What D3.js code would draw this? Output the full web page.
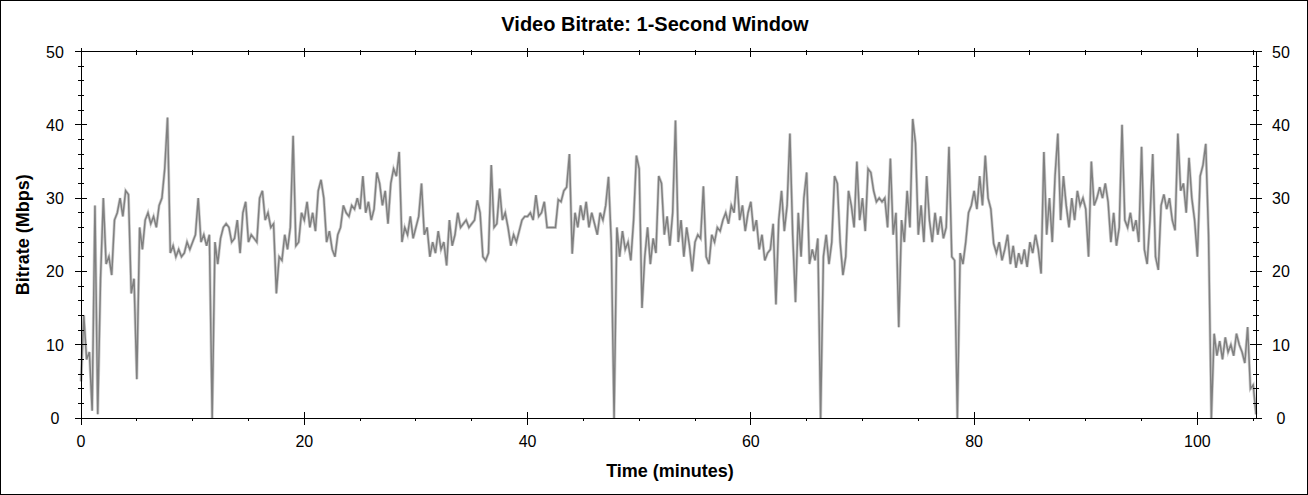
<!DOCTYPE html>
<html>
<head>
<meta charset="utf-8">
<script src="https://cdn.jsdelivr.net/npm/d3@7"></script>
<style>
  html, body { margin: 0; padding: 0; background: #fff; }
  svg { display: block; font-family: "Liberation Sans", Arial, sans-serif; }
</style>
</head>
<body>
<div id="chart"></div>
<script>
// bitrate samples (Mbps), one every quarter minute, one row per 5 minutes
const sampleStep = 0.25;
const bitrate = [
  5, 14, 8, 9, 1, 29, 0.5, 19, 30, 21, 22, 19.5, 27, 28, 30, 27.5, 31, 30.5, 17, 19,
  5.3, 26, 23, 27, 28, 26.5, 27.5, 26, 29, 30, 34, 41, 22.5, 23.5, 22, 23, 22, 22.5, 24, 23,
  24, 25, 30, 24, 25, 23.5, 25, 0, 24, 21, 24.5, 26, 26.5, 26, 24, 24.5, 27, 22.5, 28, 29.5,
  24, 25, 24.5, 24, 30, 31, 27, 28, 26, 26.5, 17, 22, 21.5, 25, 23, 26, 38.5, 23.5, 24, 28,
  27, 29.5, 26, 28, 25.5, 31, 32.5, 30, 24, 25.5, 23, 22, 25, 26, 29, 28, 27.5, 29, 28.5, 30,
  28.5, 33, 28, 29.5, 27, 28.5, 33.5, 32, 29, 31, 26.5, 32, 34, 33, 36.3, 24, 26, 25, 27.5, 24.5,
  26, 27.5, 32, 25, 26, 22, 24, 22.5, 25.5, 23, 24, 20.8, 27, 23.5, 25, 28, 26, 26.5, 27, 26,
  26.5, 27, 29.7, 28, 22, 21.5, 22.5, 34.5, 26, 26.5, 31.3, 27, 28, 26, 23.5, 25, 24, 25.5, 27, 27.5,
  27.5, 28, 27, 30.4, 27.5, 28, 29.5, 26, 26, 26, 26, 29.8, 29.5, 31, 31.5, 36, 22.4, 28, 26, 29,
  27, 29.5, 26, 28, 26.5, 25, 28, 27, 29, 32.9, 24, 0, 26, 22, 25.5, 23, 24, 21.5, 27, 35.8,
  34, 15, 22, 26, 21, 24.5, 22.5, 33, 32, 25, 27.5, 23.5, 28, 40.6, 24, 27, 22, 26, 23.5, 20,
  24, 25, 24.5, 31.6, 22, 21, 25, 24, 26, 25.5, 27, 28, 26.5, 29, 28, 33, 27, 29, 25.5, 28,
  29.5, 25.5, 27, 23, 25, 21.5, 22.5, 23, 26.5, 15.5, 27, 31, 25.5, 29, 38.8, 25, 15.8, 28, 22, 30,
  33.5, 21, 23, 21.5, 24.5, 0, 22, 25, 21, 24, 33, 32, 24, 19.5, 22, 31, 29, 26, 35, 27,
  30, 25.5, 34, 33.5, 31, 29.5, 30, 29.5, 30, 26, 35.4, 25, 28, 12.4, 27, 24, 31, 26, 40.8, 37.5,
  25, 29, 24, 33, 27, 24, 28, 25, 27.5, 24.5, 26, 37, 22, 21.5, 0, 22.5, 21, 24, 28, 29,
  31, 28.5, 33, 29, 35.8, 30, 28.5, 23.8, 22.5, 24, 21.5, 23, 25, 21, 23.5, 20.5, 22.5, 21, 23, 20.6,
  24, 22.5, 25, 23, 19.7, 36.3, 25, 30, 24, 33, 38.8, 27, 33, 29, 26, 30, 27, 31, 29, 30,
  28.5, 22, 35, 29, 30, 31.5, 30, 32, 29.5, 24, 28, 23.5, 26, 40, 27, 26, 28, 25.5, 27, 24,
  37, 23, 21, 27, 36, 22, 20.2, 29, 30.5, 28.5, 30, 27, 25.6, 38.8, 31, 32, 28, 35.5, 30, 27,
  22, 33, 34.5, 37.4, 25, 0, 11.5, 8.5, 10.5, 8, 11, 9, 10, 8.5, 11.5, 10, 9, 7.5, 12.4, 4,
  4.5, 0.5
];

const xMajorTicks = [0, 20, 40, 60, 80, 100];
const yMajorTicks = [0, 10, 20, 30, 40, 50];
const timeMax = 105.25;

const W = 1308, H = 495;
const plot = { left: 81, right: 1256, top: 51.5, bottom: 418 };

const svg = d3.select("#chart").append("svg")
  .attr("width", W)
  .attr("height", H);

svg.append("rect")
  .attr("x", 0.5).attr("y", 0.5)
  .attr("width", W - 1).attr("height", H - 1)
  .attr("fill", "#fff")
  .attr("stroke", "#000");

const x = d3.scaleLinear().domain([0, timeMax]).range([plot.left, plot.right]);
const y = d3.scaleLinear().domain([0, 50]).range([plot.bottom, plot.top]);

const xMinor = d3.range(0, timeMax, 5).filter(t => t % 20 !== 0);
const yMinor = d3.range(0, 50, 2).filter(v => v % 10 !== 0);

// line: light halo under a darker trace
const line = d3.line()
  .x((d, i) => x(i * sampleStep))
  .y(d => y(d));

svg.append("path")
  .datum(bitrate)
  .attr("fill", "none")
  .attr("stroke", "#cfcfcf")
  .attr("stroke-width", 3)
  .attr("d", line);

svg.append("path")
  .datum(bitrate)
  .attr("fill", "none")
  .attr("stroke", "#808080")
  .attr("stroke-width", 1.5)
  .attr("d", line);

// frame
const g = svg.append("g").attr("stroke", "#000").attr("stroke-width", 1).attr("shape-rendering", "crispEdges");
g.append("line").attr("x1", plot.left).attr("x2", plot.right).attr("y1", plot.bottom).attr("y2", plot.bottom);
g.append("line").attr("x1", plot.left).attr("x2", plot.right).attr("y1", plot.top).attr("y2", plot.top);
g.append("line").attr("x1", plot.left).attr("x2", plot.left).attr("y1", plot.top).attr("y2", plot.bottom);
g.append("line").attr("x1", plot.right).attr("x2", plot.right).attr("y1", plot.top).attr("y2", plot.bottom);

// x ticks
g.selectAll(".xmaj").data(xMajorTicks).enter().append("line")
  .attr("x1", d => x(d)).attr("x2", d => x(d))
  .attr("y1", plot.bottom - 6).attr("y2", plot.bottom + 7);
g.selectAll(".xmin").data(xMinor).enter().append("line")
  .attr("x1", d => x(d)).attr("x2", d => x(d))
  .attr("y1", plot.bottom).attr("y2", plot.bottom + 3);
g.selectAll(".xmajt").data(xMajorTicks).enter().append("line")
  .attr("x1", d => x(d)).attr("x2", d => x(d))
  .attr("y1", plot.top - 4).attr("y2", plot.top + 5);
g.selectAll(".xmint").data(xMinor).enter().append("line")
  .attr("x1", d => x(d)).attr("x2", d => x(d))
  .attr("y1", plot.top - 2).attr("y2", plot.top + 3);

// y ticks, both sides
[plot.left, plot.right].forEach(px => {
  g.selectAll(null).data(yMajorTicks).enter().append("line")
    .attr("x1", px - 6).attr("x2", px + 6)
    .attr("y1", d => y(d)).attr("y2", d => y(d));
  g.selectAll(null).data(yMinor).enter().append("line")
    .attr("x1", px - 3).attr("x2", px + 3)
    .attr("y1", d => y(d)).attr("y2", d => y(d));
});

// tick labels
svg.selectAll(".xl").data(xMajorTicks).enter().append("text")
  .attr("x", d => x(d)).attr("y", 447)
  .attr("text-anchor", "middle")
  .attr("font-size", 16)
  .text(d => d);

svg.selectAll(".yl").data(yMajorTicks).enter().append("text")
  .attr("x", 55).attr("y", d => y(d) + 6)
  .attr("text-anchor", "middle")
  .attr("font-size", 16)
  .text(d => d);

svg.selectAll(".yr").data(yMajorTicks).enter().append("text")
  .attr("x", 1281).attr("y", d => y(d) + 6)
  .attr("text-anchor", "middle")
  .attr("font-size", 16)
  .text(d => d);

// titles
svg.append("text")
  .attr("x", 655).attr("y", 31)
  .attr("text-anchor", "middle")
  .attr("font-size", 20).attr("font-weight", "bold")
  .text("Video Bitrate: 1-Second Window");

svg.append("text")
  .attr("x", 670).attr("y", 477)
  .attr("text-anchor", "middle")
  .attr("font-size", 18).attr("font-weight", "bold")
  .text("Time (minutes)");

svg.append("text")
  .attr("transform", `translate(29, ${(plot.top + plot.bottom) / 2}) rotate(-90)`)
  .attr("text-anchor", "middle")
  .attr("font-size", 18).attr("font-weight", "bold")
  .text("Bitrate (Mbps)");
</script>
</body>
</html>
